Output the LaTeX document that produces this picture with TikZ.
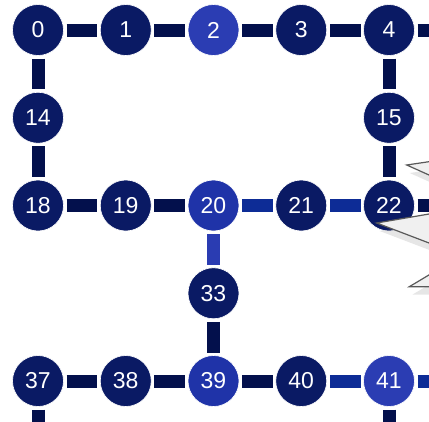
\documentclass[tikz,border=0pt]{standalone}
\usepackage{fontspec}
\setmainfont{Liberation Sans}
\usetikzlibrary{positioning, shadows}

\definecolor{qdark}{HTML}{0A1A64}
\definecolor{qblue}{HTML}{2B3DB3}
\definecolor{qmid}{HTML}{1F33A8}
\definecolor{linkdark}{HTML}{03104C}
\definecolor{linkblue}{HTML}{0D2C96}
\definecolor{linkbright}{HTML}{2A3CB2}

\begin{document}
\begin{tikzpicture}[
    node distance=36.75pt, % centre to centre 87.75pt
    % Styles for qubits and couplings
    qubit/.style={circle, fill=qdark, draw=white, line width=0.6pt, minimum size=51pt, inner sep=0pt, outer sep=0pt, text=white, font=\fontsize{23}{23}\selectfont},
    brightqubit/.style={qubit, fill=qblue},
    midqubit/.style={qubit, fill=qmid},
    link/.style={draw=linkdark, line width=13pt, shorten <=3pt, shorten >=3pt},
    bluelink/.style={link, draw=linkblue},
    brightlink/.style={link, draw=linkbright},
    callout/.style={fill=gray!12, draw=black!65, line width=1.2pt, line join=miter, drop shadow={opacity=0.2, shadow xshift=3pt, shadow yshift=-8pt}}
]
    \useasboundingbox (0,0) rectangle (429pt,-421pt);
    \clip (0,0) rectangle (429pt,-421pt);

    % Top row
    \node (q0) [qubit] at (38pt,-30pt) {0};
    \node (q1) [qubit, right=of q0] {1};
    \node (q2) [brightqubit, right=of q1] {2};
    \node (q3) [qubit, right=of q2] {3};
    \node (q4) [qubit, right=of q3] {4};

    % Second row
    \node (q14) [qubit, below=of q0] {14};
    \node (q15) [qubit, below=of q4] {15};

    % Third row
    \node (q18) [qubit, below=of q14] {18};
    \node (q19) [qubit, right=of q18] {19};
    \node (q20) [midqubit, right=of q19] {20};
    \node (q21) [qubit, right=of q20] {21};
    \node (q22) [qubit, right=of q21] {22};

    \node (q33) [qubit, below=of q20] {33};

    % Bottom row
    \node (q37) [qubit, below=of q33, xshift=-175.5pt] {37};
    \node (q38) [qubit, right=of q37] {38};
    \node (q39) [midqubit, right=of q38] {39};
    \node (q40) [qubit, right=of q39] {40};
    \node (q41) [brightqubit, right=of q40] {41};

    % Loose ends leaving the picture
    \coordinate [right=of q4] (out4);
    \coordinate [right=of q22] (out22);
    \coordinate [right=of q41] (out41);
    \coordinate [below=of q37] (down37);
    \coordinate [below=of q41] (down41);

    % Couplings
    \draw [link] (q0) -- (q1);
    \draw [link] (q1) -- (q2);
    \draw [link] (q2) -- (q3);
    \draw [link] (q3) -- (q4);
    \draw [link] (q4) -- (out4);
    \draw [link] (q0) -- (q14);
    \draw [link] (q14) -- (q18);
    \draw [link] (q4) -- (q15);
    \draw [link] (q15) -- (q22);
    \draw [link] (q18) -- (q19);
    \draw [link] (q19) -- (q20);
    \draw [bluelink] (q20) -- (q21);
    \draw [bluelink] (q21) -- (q22);
    \draw [link] (q22) -- (out22);
    \draw [brightlink] (q20) -- (q33);
    \draw [link] (q33) -- (q39);
    \draw [link] (q37) -- (q38);
    \draw [link] (q38) -- (q39);
    \draw [link] (q39) -- (q40);
    \draw [bluelink] (q40) -- (q41);
    \draw [bluelink] (q41) -- (out41);
    \draw [link] (q37) -- (down37);
    \draw [link] (q41) -- (down41);

    % Callout coming in from the right
    \draw [callout] (470pt,-155.6pt) -- (406.7pt,-165pt) -- (450pt,-184.4pt)
        -- (450pt,-210.4pt) -- (376.7pt,-223pt) -- (450pt,-251pt)
        -- (450pt,-262.4pt) -- (409.3pt,-286.7pt) -- (470pt,-286.7pt) -- cycle;

\end{tikzpicture}
\end{document}
